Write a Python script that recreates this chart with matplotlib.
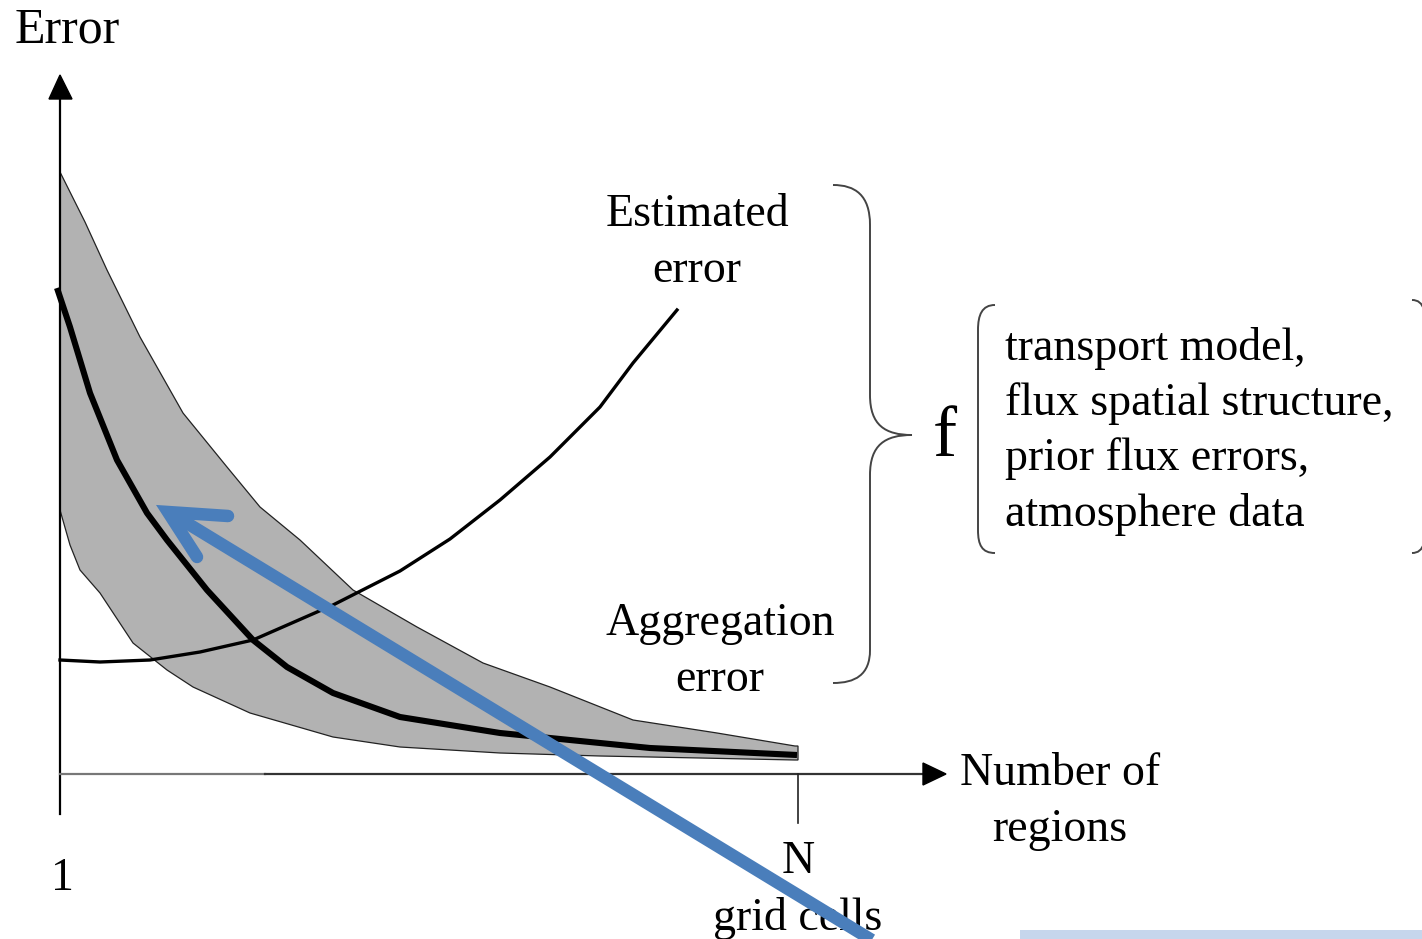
import matplotlib
matplotlib.use("Agg")
import matplotlib.pyplot as plt
from matplotlib.path import Path
from matplotlib.patches import PathPatch, Rectangle

# ---- data (diagram coordinates; y grows downward) ----
band_upper_x = [60, 63, 85, 107, 140, 183, 227, 260, 300, 353, 417, 483, 550, 633, 717, 795]
band_upper_y = [172, 178, 222, 270, 337, 413, 467, 507, 540, 590, 627, 663, 687, 720, 733, 746]
band_lower_x = [60, 70, 80, 100, 133, 167, 193, 250, 333, 400, 500, 600, 700, 795]
band_lower_y = [510, 545, 570, 593, 643, 670, 687, 713, 737, 747, 753, 756, 758, 760]

agg_x = [57, 70, 90, 117, 147, 167, 207, 253, 287, 333, 400, 500, 550, 650, 797]
agg_y = [288, 327, 393, 460, 513, 540, 590, 640, 667, 693, 717, 733, 738, 748, 755]

est_x = [60, 100, 150, 200, 253, 333, 400, 450, 500, 550, 600, 633, 677]
est_y = [660, 662, 660, 652, 640, 605, 571, 539, 500, 457, 407, 363, 310]

factors = ["transport model,", "flux spatial structure,",
           "prior flux errors,", "atmosphere data"]

W, H = 1422, 939
fig = plt.figure(figsize=(W / 100, H / 100), dpi=100)
ax = fig.add_axes([0, 0, 1, 1])
ax.set_xlim(0, W)
ax.set_ylim(H, 0)
ax.axis("off")

serif = ["Liberation Serif", "DejaVu Serif"]
fs = 33
dy = 4

# gray band
poly_x = band_upper_x + [798, 798] + band_lower_x[::-1]
poly_y = band_upper_y + [746, 760] + band_lower_y[::-1]
ax.fill(poly_x, poly_y, facecolor="#b2b2b2", edgecolor="#222222", lw=0.9, zorder=2)

# axes lines
ax.plot([60, 60], [814, 98], color="black", lw=1.6, zorder=3)
ax.fill([49, 60, 72], [99, 75, 99], color="black", zorder=3)
ax.plot([60, 265], [774, 774], color="#777777", lw=1.6, zorder=3)
ax.plot([265, 925], [774, 774], color="#333333", lw=1.6, zorder=3)
ax.fill([923, 946, 923], [763, 774, 785], color="black", zorder=3)
ax.plot([798, 798], [774, 823], color="#222222", lw=1.2, zorder=3)

# curves
ax.plot(agg_x, agg_y, color="black", lw=4.4, solid_capstyle="butt",
        solid_joinstyle="round", zorder=4)
ax.plot(est_x, est_y, color="black", lw=2.4, solid_joinstyle="round", zorder=4)

# texts
ax.text(15, 28 + 2, "Error", family=serif, fontsize=36, va="center", ha="left")
ax.text(697, 211 + dy, "Estimated", family=serif, fontsize=fs, va="center", ha="center")
ax.text(697, 267 + dy, "error", family=serif, fontsize=fs, va="center", ha="center")
ax.text(720, 620 + dy, "Aggregation", family=serif, fontsize=fs, va="center", ha="center")
ax.text(720, 676 + dy, "error", family=serif, fontsize=fs, va="center", ha="center")
ax.text(960, 770 + dy, "Number of", family=serif, fontsize=fs, va="center", ha="left")
ax.text(1060, 826 + dy, "regions", family=serif, fontsize=fs, va="center", ha="center")
ax.text(62, 875 + dy, "1", family=serif, fontsize=fs, va="center", ha="center")
ax.text(798, 858 + dy, "N", family=serif, fontsize=fs, va="center", ha="center")
ax.text(798, 915 + dy, "grid cells", family=serif, fontsize=fs, va="center", ha="center")
ax.text(945, 435 + dy, "f", family=serif, fontsize=52, va="center", ha="center")
for i, t in enumerate(factors):
    ax.text(1005, 345 + 55 * i + dy, t, family=serif, fontsize=fs, va="center", ha="left")

# right brace
C = Path.CURVE4
L = Path.LINETO
M = Path.MOVETO
verts = [(833, 185), (855, 185), (870, 195), (870, 225),
         (870, 395),
         (870, 425), (885, 435), (912, 435),
         (885, 435), (870, 445), (870, 475),
         (870, 650),
         (870, 675), (855, 683), (833, 683)]
codes = [M, C, C, C, L, C, C, C, C, C, C, L, C, C, C]
ax.add_patch(PathPatch(Path(verts, codes), fill=False, edgecolor="#444444", lw=1.4, zorder=3))

# left bracket
verts2 = [(995, 305), (982, 305), (978, 315), (978, 330),
          (978, 530),
          (978, 545), (982, 553), (995, 553)]
codes2 = [M, C, C, C, L, C, C, C]
ax.add_patch(PathPatch(Path(verts2, codes2), fill=False, edgecolor="#444444", lw=1.4, zorder=3))
# partial right bracket at the edge
verts3 = [(1412, 300), (1418, 300), (1422, 303), (1424, 310)]
ax.add_patch(PathPatch(Path(verts3, [M, C, C, C]), fill=False, edgecolor="#444444", lw=1.4))
verts4 = [(1412, 553), (1418, 553), (1422, 550), (1424, 543)]
ax.add_patch(PathPatch(Path(verts4, [M, C, C, C]), fill=False, edgecolor="#444444", lw=1.4))

# blue arrow
blue = "#4a7ebb"
ax.plot([880, 172], [945, 514], color=blue, lw=9, solid_capstyle="butt", zorder=5)
ax.plot([228, 168, 197], [516, 512, 557], color=blue, lw=9,
        solid_capstyle="round", solid_joinstyle="miter", zorder=5)

# light blue strip at the bottom right
ax.add_patch(Rectangle((1020, 930), 402, 9, facecolor="#c6d6ec", edgecolor="none", zorder=1))

fig.savefig("out.png", dpi=100)
